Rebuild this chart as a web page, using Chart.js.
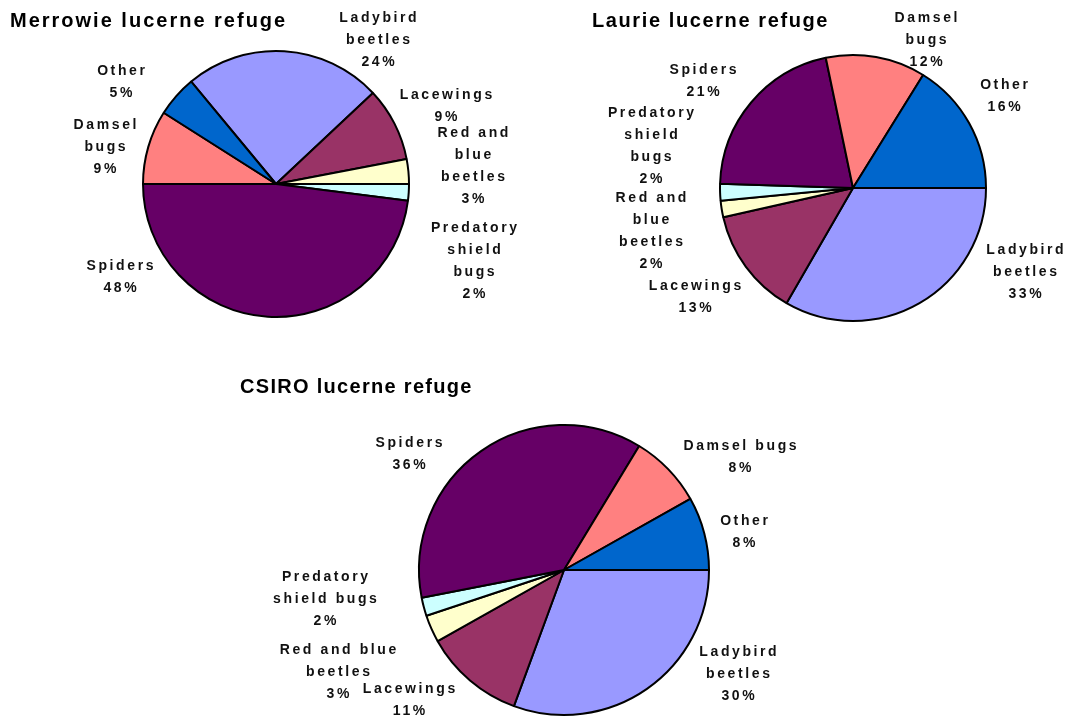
<!DOCTYPE html>
<html>
<head>
<meta charset="utf-8">
<script src="https://cdn.jsdelivr.net/npm/chart.js@4.4.0/dist/chart.umd.min.js"></script>
<style>
  body { margin: 0; background: #fff; }
  #quadro { position: relative; width: 1067px; height: 717px; overflow: hidden; }
  canvas { position: absolute; left: 0; top: 0; }
  .titulo { position: absolute; font: bold 20px "Liberation Sans", Arial, sans-serif; line-height: 20px; color: #000; white-space: nowrap; }
</style>
</head>
<body>
<div id="quadro">
  <canvas id="merrowie" width="1067" height="717"></canvas>
  <canvas id="laurie" width="1067" height="717"></canvas>
  <canvas id="csiro" width="1067" height="717"></canvas>
  <div class="titulo" style="left:10px; top:10px; letter-spacing:2px">Merrowie lucerne refuge</div>
  <div class="titulo" style="left:592px; top:10px; letter-spacing:1.6px">Laurie lucerne refuge</div>
  <div class="titulo" style="left:240px; top:376px; letter-spacing:1.3px">CSIRO lucerne refuge</div>
</div>
<script>
// categorias na ordem das fatias (sentido horario)
var categorias = ['Ladybird beetles', 'Lacewings', 'Red and blue beetles', 'Predatory shield bugs', 'Spiders', 'Damsel bugs', 'Other'];
var cores = ['#9999FF', '#993366', '#FFFFCC', '#CCFFFF', '#660066', '#FF8080', '#0066CC'];

// porcentagens de cada refugio
var valoresMerrowie = [24, 9, 3, 2, 48, 9, 5];
var valoresLaurie = [33, 13, 2, 2, 21, 12, 16];
var valoresCsiro = [30, 11, 3, 2, 36, 8, 8];

// quebras de linha dos rotulos
var quebrasMerrowie = [['Ladybird', 'beetles'], ['Lacewings'], ['Red and', 'blue', 'beetles'], ['Predatory', 'shield', 'bugs'], ['Spiders'], ['Damsel', 'bugs'], ['Other']];
var quebrasLaurie = [['Ladybird', 'beetles'], ['Lacewings'], ['Red and', 'blue', 'beetles'], ['Predatory', 'shield', 'bugs'], ['Spiders'], ['Damsel', 'bugs'], ['Other']];
var quebrasCsiro = [['Ladybird', 'beetles'], ['Lacewings'], ['Red and blue', 'beetles'], ['Predatory', 'shield bugs'], ['Spiders'], ['Damsel bugs'], ['Other']];

// deslocamento do centro de cada rotulo em relacao ao centro da pizza
var desviosMerrowie = [[102, -144], [170, -78], [197, -18], [198, 77], [-156, 93], [-171, -37], [-155, -102]];
var desviosLaurie = [[172, 84], [-158, 109], [-202, 43], [-202, -42], [-150, -107], [73, -148], [151, -92]];
var desviosCsiro = [[174, 104], [-155, 130], [-226, 102], [-239, 29], [-155, -116], [176, -113], [180, -38]];

var LARGURA = 1067;
var ALTURA = 717;

function criarPizza(id, valores, quebras, desvios, rotacao, cx, cy, raio) {
  var rotulos = {
    id: 'rotulos_' + id,
    afterDatasetsDraw: function (chart) {
      var ctx = chart.ctx;
      var arcos = chart.getDatasetMeta(0).data;
      var dados = chart.data.datasets[0].data;
      ctx.save();
      ctx.font = 'bold 14px "Liberation Sans", Arial, sans-serif';
      ctx.letterSpacing = '2.6px';
      ctx.fillStyle = '#111';
      ctx.textAlign = 'center';
      ctx.textBaseline = 'middle';
      for (var i = 0; i < arcos.length; i++) {
        var linhas = quebras[i].concat([dados[i] + '%']);
        var x = arcos[i].x + desvios[i][0] + 1.3;
        var y = arcos[i].y + desvios[i][1] - (linhas.length - 1) * 22 / 2;
        for (var j = 0; j < linhas.length; j++) {
          ctx.fillText(linhas[j], x, y + j * 22);
        }
      }
      ctx.restore();
    }
  };

  new Chart(document.getElementById(id), {
    type: 'pie',
    data: {
      labels: categorias,
      datasets: [{
        data: valores,
        backgroundColor: cores,
        borderColor: '#000',
        borderWidth: 2
      }]
    },
    options: {
      responsive: false,
      animation: false,
      events: [],
      rotation: rotacao,
      radius: raio,
      layout: {
        padding: {
          left: cx - raio,
          right: LARGURA - cx - raio,
          top: cy - raio,
          bottom: ALTURA - cy - raio
        }
      },
      plugins: {
        legend: { display: false },
        tooltip: { enabled: false },
        title: { display: false }
      }
    },
    plugins: [rotulos]
  });
}

criarPizza('merrowie', valoresMerrowie, quebrasMerrowie, desviosMerrowie, -39.6, 276, 184, 133);
criarPizza('laurie', valoresLaurie, quebrasLaurie, desviosLaurie, 90, 853, 188, 133);
criarPizza('csiro', valoresCsiro, quebrasCsiro, desviosCsiro, 90, 564, 570, 145);
</script>
</body>
</html>
